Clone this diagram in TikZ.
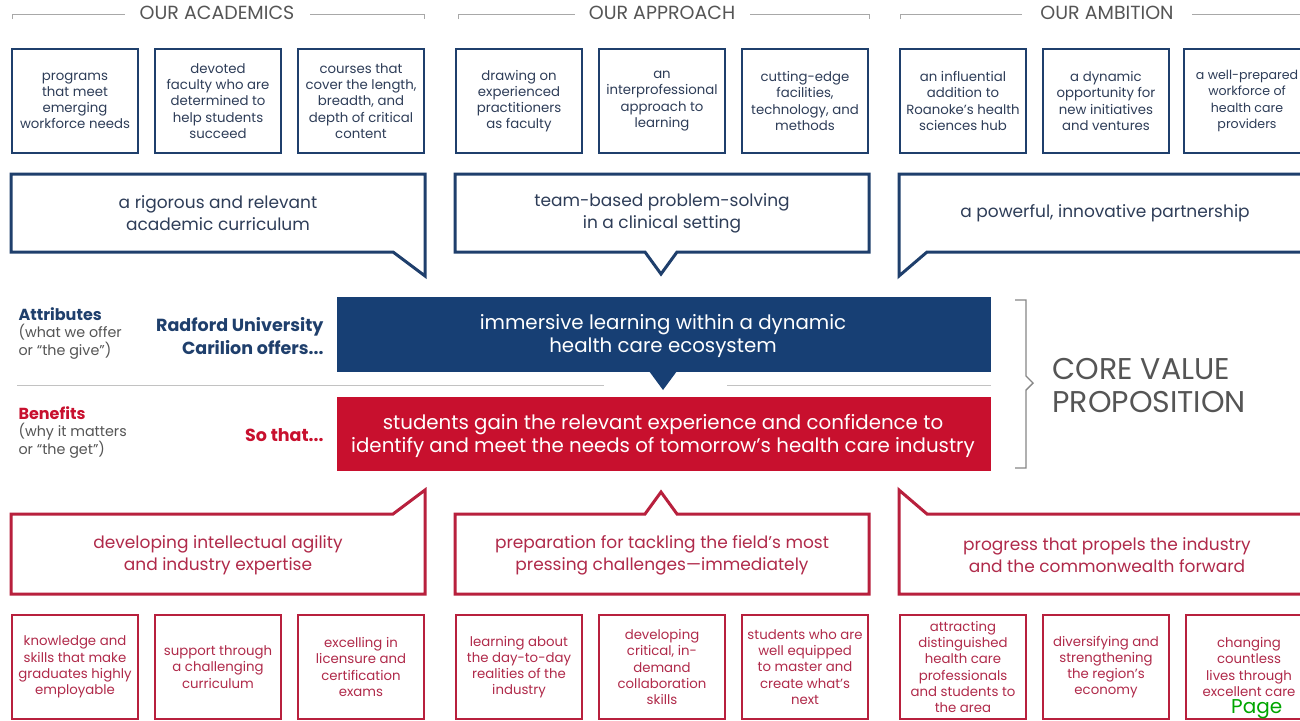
\documentclass[tikz,border=0pt]{standalone}
\usepackage{fontspec}
\setmainfont{Poppins}
\usetikzlibrary{positioning}

\definecolor{navy}{HTML}{1F3F6C}
\definecolor{navyfill}{HTML}{173F74}
\definecolor{navytext}{HTML}{2E3D58}
\definecolor{crimson}{HTML}{C8102E}
\definecolor{redline}{HTML}{B8203D}
\definecolor{redtext}{HTML}{B02A4A}
\definecolor{greytext}{HTML}{555555}
\definecolor{greyline}{HTML}{A8A8A8}

\tikzset{
  header/.style={font=\fontsize{19}{20}\selectfont,text=greytext},
  topbox/.style={draw=navy,line width=2.8pt,minimum width=126,minimum height=104,
    align=center,text=navytext,font=\fontsize{13.3}{16.2}\selectfont,inner sep=0pt},
  botbox/.style={topbox,draw=redline,text=redtext},
  bluecall/.style={draw=navy,line width=3pt,line join=miter},
  redcall/.style={draw=redline,line width=3pt,line join=miter},
  calltext/.style={align=center,font=\fontsize{17}{22}\selectfont},
  coretext/.style={align=center,text=white,font=\fontsize{19.8}{23.5}\selectfont},
  sidelabel/.style={align=left,anchor=north west,font=\fontsize{14.3}{17.5}\selectfont,text=greytext},
  sidehead/.style={align=right,anchor=east,font=\bfseries\fontsize{17.5}{23}\selectfont}
}

\begin{document}
\begin{tikzpicture}[x=1pt,y=-1pt]
  \clip (0,0) rectangle (1300,720);
  \fill[white] (0,0) rectangle (1300,720);

  % column headers
  \node[header] (hacad) at (217,13) {OUR ACADEMICS};
  \node[header] (happr) at (662,13) {OUR APPROACH};
  \node[header] (hambi) at (1107,13) {OUR AMBITION};
  \draw[greyline,line width=1pt] (12,19) -- (12,14) -- (125,14) (310,14) -- (424,14) -- (424,19);
  \draw[greyline,line width=1pt] (458,19) -- (458,14) -- (575,14) (750,14) -- (869,14) -- (869,19);
  \draw[greyline,line width=1pt] (900,19) -- (900,14) -- (1022,14) (1192,14) -- (1300,14);

  % top row
  \node[topbox] (t1) at (75,101) {programs\\that meet\\emerging\\workforce needs};
  \node[topbox] (t2) at (218,101) {devoted\\faculty who are\\determined to\\help students\\succeed};
  \node[topbox] (t3) at (361,101) {courses that\\cover the length,\\breadth, and\\depth of critical\\content};
  \node[topbox] (t4) at (519,101) {drawing on\\experienced\\practitioners\\as faculty};
  \node[topbox] (t5) at (662,101) {an\\interprofessional\\approach to\\learning};
  \node[topbox] (t6) at (805,101) {cutting-edge\\facilities,\\technology, and\\methods};
  \node[topbox] (t7) at (963,101) {an influential\\addition to\\Roanoke’s health\\sciences hub};
  \node[topbox] (t8) at (1106,101) {a dynamic\\opportunity for\\new initiatives\\and ventures};
  \node[topbox,font=\fontsize{12.6}{16.2}\selectfont] (t9) at (1247,101) {a well-prepared\\workforce of\\health care\\providers};

  % blue callouts
  \draw[bluecall] (11,174) -- (425,174) -- (425,276) -- (393,252) -- (11,252) -- cycle;
  \draw[bluecall] (455,174) -- (869,174) -- (869,252) -- (677,252) -- (661,274) -- (645,252) -- (455,252) -- cycle;
  \draw[bluecall] (899,174) -- (1313,174) -- (1313,252) -- (927,252) -- (899,276) -- cycle;
  \node[calltext,text=navytext] (ccurr) at (218,213) {a rigorous and relevant\\academic curriculum};
  \node[calltext,text=navytext] (cteam) at (662,213) {team-based problem-solving\\in a clinical setting};
  \node[calltext,text=navytext] (cpart) at (1105,213) {a powerful, innovative partnership};

  % core value proposition
  \fill[navyfill] (337,297) rectangle (991,372);
  \fill[navyfill] (649,371) -- (677,371) -- (663,390) -- cycle;
  \draw[greyline!70,line width=1pt] (17,385) -- (604,385) (727,385) -- (991,385);
  \fill[crimson] (337,397) rectangle (991,471);
  \node[coretext] (give) at (663,336) {immersive learning within a dynamic\\health care ecosystem};
  \node[coretext] (get) at (663,436) {students gain the relevant experience and confidence to\\identify and meet the needs of tomorrow’s health care industry};

  \node[sidelabel] (attr) at (15,304) {\textbf{\textcolor{navy}{\fontsize{16}{17.5}\selectfont Attributes}}\\(what we offer\\or “the give”)};
  \node[sidelabel] (bene) at (15,403) {\textbf{\textcolor{crimson}{\fontsize{16}{17.5}\selectfont Benefits}}\\(why it matters\\or “the get”)};
  \node[sidehead,text=navy] (offers) at (327,336) {Radford University\\Carilion offers...};
  \node[sidehead,text=crimson] (sothat) at (327,435) {So that...};

  \draw[greyline!80!black,line width=1.4pt] (1015,300) -- (1026,300) -- (1026,376) -- (1033,383)
    -- (1026,390) -- (1026,468) -- (1015,468);
  \node[align=left,anchor=west,text=greytext,font=\fontsize{30}{33}\selectfont] (cvp) at (1049,386) {CORE VALUE\\PROPOSITION};

  % red callouts
  \draw[redcall] (11,514) -- (393,514) -- (425,490) -- (425,594) -- (11,594) -- cycle;
  \draw[redcall] (455,514) -- (645,514) -- (661,492) -- (677,514) -- (869,514) -- (869,594) -- (455,594) -- cycle;
  \draw[redcall] (899,490) -- (927,514) -- (1313,514) -- (1313,594) -- (899,594) -- cycle;
  \node[calltext,text=redtext] (cagil) at (218,555) {developing intellectual agility\\and industry expertise};
  \node[calltext,text=redtext] (cprep) at (662,555) {preparation for tackling the field’s most\\pressing challenges—immediately};
  \node[calltext,text=redtext] (cprog) at (1107,555) {progress that propels the industry\\and the commonwealth forward};

  % bottom row
  \node[botbox] (b1) at (75,667) {knowledge and\\skills that make\\graduates highly\\employable};
  \node[botbox] (b2) at (218,667) {support through\\a challenging\\curriculum};
  \node[botbox] (b3) at (361,667) {excelling in\\licensure and\\certification\\exams};
  \node[botbox] (b4) at (519,667) {learning about\\the day-to-day\\realities of the\\industry};
  \node[botbox] (b5) at (662,667) {developing\\critical, in-\\demand\\collaboration\\skills};
  \node[botbox] (b6) at (805,667) {students who are\\well equipped\\to master and\\create what’s\\next};
  \node[botbox] (b7) at (963,667) {attracting\\distinguished\\health care\\professionals\\and students to\\the area};
  \node[botbox] (b8) at (1106,667) {diversifying and\\strengthening\\the region’s\\economy};
  \node[botbox] (b9) at (1249,667) {changing\\countless\\lives through\\excellent care};

  \node[anchor=south west,text=green!65!black,font=\fontsize{20}{22}\selectfont,inner sep=0pt] (page) at (1231,719) {Page};
\end{tikzpicture}
\end{document}
